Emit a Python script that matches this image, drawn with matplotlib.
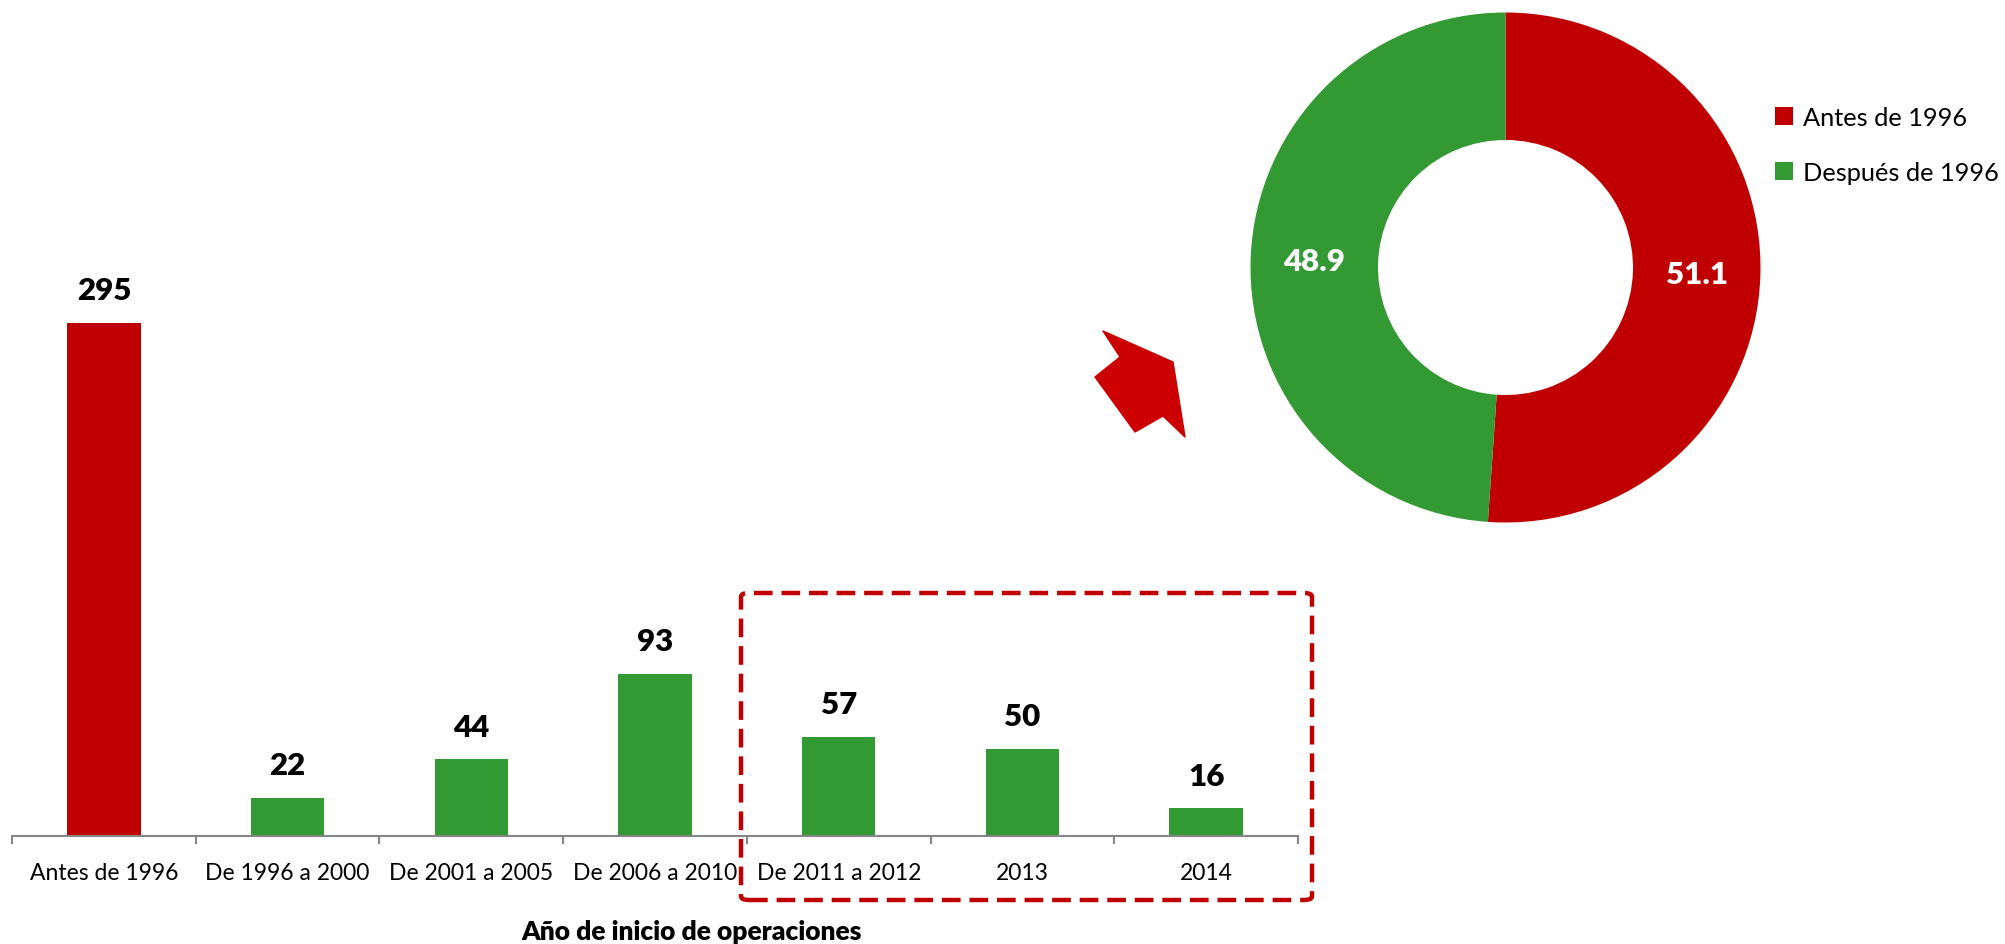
import matplotlib
matplotlib.use("Agg")
import matplotlib.pyplot as plt
from matplotlib.patches import Polygon, FancyBboxPatch
import numpy as np

plt.rcParams['font.family'] = ['Lato', 'DejaVu Sans']

# ---- data ----
categories = ["Antes de 1996", "De 1996 a 2000", "De 2001 a 2005", "De 2006 a 2010",
              "De 2011 a 2012", "2013", "2014"]
counts = [295, 22, 44, 93, 57, 50, 16]
pie_labels = ["Antes de 1996", "Después de 1996"]
pie_values = [51.1, 48.9]
xlabel_text = "Año de inicio de operaciones"

RED = "#C00000"
GREEN = "#339933"
bar_colors = [RED] + [GREEN] * (len(categories) - 1)

W, H = 2006, 945
fig = plt.figure(figsize=(W / 100, H / 100), dpi=100)

def fx(px):
    return px / W

def fy(py):
    return 1 - py / H

# ---- bar chart ----
ax_left, ax_right, ax_bottom, ax_top = 12, 1298, 837, 280
ax = fig.add_axes([fx(ax_left), fy(ax_bottom), fx(ax_right - ax_left), (ax_bottom - ax_top) / H])
x = np.arange(len(categories))
bars = ax.bar(x, counts, width=0.40, color=bar_colors, zorder=2)
ax.set_xlim(-0.5, len(categories) - 0.5)
ax.set_ylim(0, 320)
for s in ["top", "right", "left"]:
    ax.spines[s].set_visible(False)
ax.spines["bottom"].set_color("#868686")
ax.spines["bottom"].set_linewidth(1.5)
ax.set_yticks([])
ax.set_xticks(x)
ax.set_xticklabels(categories, fontsize=16.5)
ax.tick_params(axis="x", which="major", length=0, pad=19)
ax.set_xticks(np.arange(-0.5, len(categories), 1.0), minor=True)
ax.tick_params(axis="x", which="minor", length=6, width=1.5, color="#868686")
for rect, v in zip(bars, counts):
    ax.annotate(str(v), (rect.get_x() + rect.get_width() / 2, v),
                xytext=(0, 23.5), textcoords="offset points",
                ha="center", va="center", fontsize=22.5, fontweight=800)

fig.text(fx(692), fy(932), xlabel_text, ha="center", va="center",
         fontsize=19, fontweight=800)

# dashed highlight box
box = FancyBboxPatch((fx(741), fy(901)), fx(1312 - 741), (901 - 594) / H,
                     boxstyle="round,pad=0,rounding_size=0.004",
                     transform=fig.transFigure, fill=False, edgecolor=RED,
                     linewidth=3.2, linestyle=(0, (4.2, 2.0)), zorder=5)
fig.patches.append(box)

# arrow
arrow_px = [(1173, 363), (1103, 332), (1120, 358), (1095, 378),
            (1135, 433), (1163, 417), (1185, 438)]
arrow = Polygon([(fx(a), fy(b)) for a, b in arrow_px], closed=True,
                transform=fig.transFigure, facecolor="#CC0000", edgecolor="#CC0000",
                linewidth=1.0, joinstyle="round")
fig.patches.append(arrow)

# ---- donut ----
cx, cy, r = 1505.5, 268.5, 255
pax = fig.add_axes([fx(cx - r), fy(cy + r), 2 * r / W, 2 * r / H])
wedges, _ = pax.pie(pie_values, colors=[RED, GREEN], startangle=90, counterclock=False,
                    radius=1.0, wedgeprops=dict(width=0.5, linewidth=0))
pax.set_xlim(-1, 1)
pax.set_ylim(-1, 1)
pax.set_aspect("equal")
pax.axis("off")
for w, v in zip(wedges, pie_values):
    ang = np.deg2rad((w.theta1 + w.theta2) / 2)
    pax.text(0.75 * np.cos(ang), 0.75 * np.sin(ang), f"{v:.1f}", ha="center", va="center",
             color="white", fontsize=22.5, fontweight=800)

fig.legend(wedges, pie_labels, loc="upper left", bbox_to_anchor=(fx(1775), fy(107)),
           frameon=False, fontsize=18.3, handlelength=0.72, handleheight=0.72,
           handletextpad=0.4, labelspacing=1.25, borderaxespad=0, borderpad=0)

fig.savefig("out.png", dpi=100)
